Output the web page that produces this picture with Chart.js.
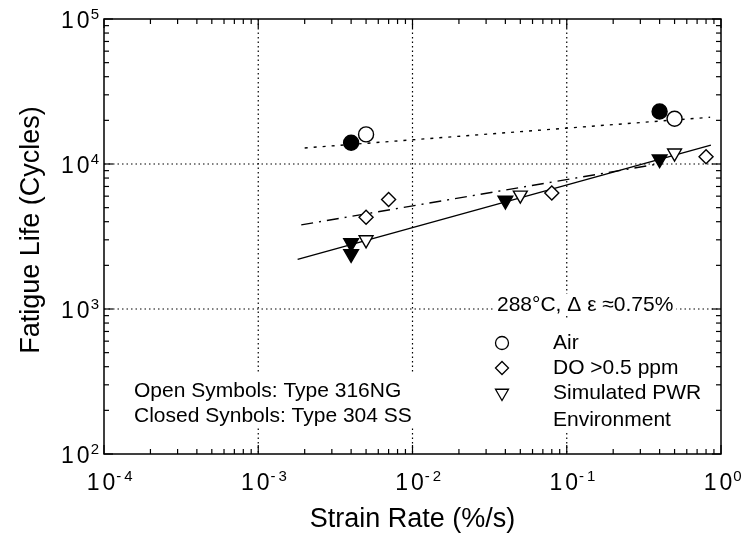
<!DOCTYPE html>
<html>
<head>
<meta charset="utf-8">
<script src="https://cdn.jsdelivr.net/npm/chart.js@4.4.1/dist/chart.umd.min.js"></script>
<style>
  html, body { margin: 0; padding: 0; background: #fff; }
  #wrap { width: 751px; height: 540px; }
</style>
</head>
<body>
<div id="wrap"><canvas id="fatigueChart" width="751" height="540"></canvas></div>
<script>
// ===== values (strain rate %/s, fatigue life cycles) =====
const airOpen = [[0.005, 16000], [0.5, 20500]];
const airClosed = [[0.004, 14000], [0.4, 23000]];
const doOpen = [[0.005, 4300], [0.007, 5700], [0.08, 6300], [0.8, 11200]];
const pwrOpen = [[0.005, 3000], [0.05, 6100], [0.5, 11900]];
const pwrClosed = [[0.004, 2850], [0.004, 2400], [0.04, 5600], [0.4, 10800]];

// trend lines, end points
const airFit = [[0.002, 12900], [0.85, 21000]];
const doFit = [[0.0019, 3800], [0.4, 10050]];
const pwrFit = [[0.0018, 2200], [0.86, 13500]];

// axes
const xDecades = [1e-4, 1e-3, 1e-2, 1e-1, 1];
const xExponents = ['-4', '-3', '-2', '-1', '0'];
const yDecades = [1e2, 1e3, 1e4, 1e5];
const yExponents = ['2', '3', '4', '5'];
const xTitle = 'Strain Rate (%/s)';
const yTitle = 'Fatigue Life (Cycles)';

// legend and note
const legendTitle = '288°C, Δ ε ≈0.75%';
const legendItems = ['Air', 'DO >0.5 ppm', 'Simulated PWR', 'Environment'];
const noteLines = ['Open Symbols: Type 316NG', 'Closed Synbols: Type 304 SS'];

const FONT = '"Liberation Sans", Arial, Helvetica, sans-serif';
const pts = arr => arr.map(([x, y]) => ({ x, y }));

function markers(label, data, style, filled, radius) {
  return {
    label,
    data: pts(data),
    showLine: false,
    pointStyle: style,
    pointRadius: radius,
    pointHoverRadius: radius,
    rotation: style === 'triangle' ? 180 : 0,
    backgroundColor: filled ? '#000' : '#fff',
    borderColor: '#000',
    borderWidth: 1.4
  };
}

function fitLine(label, data, dash) {
  return {
    label,
    data: pts(data),
    showLine: true,
    pointRadius: 0,
    borderColor: '#000',
    borderWidth: 1.4,
    borderDash: dash,
    fill: false
  };
}

function strokeLine(ctx, x1, y1, x2, y2) {
  ctx.beginPath();
  ctx.moveTo(x1, y1);
  ctx.lineTo(x2, y2);
  ctx.stroke();
}

// "1 0" with a raised exponent, spaced like the old plot lettering
function drawPower(ctx, exp, anchorX, centerY, mode) {
  const base = '23px ' + FONT;
  const sup = '15px ' + FONT;
  const digitGap = 3;
  ctx.font = base;
  const oneW = ctx.measureText('1').width;
  const baseW = ctx.measureText('10').width + digitGap;
  ctx.font = sup;
  const parts = exp.startsWith('-') ? ['-', exp.slice(1)] : [exp];
  const gap = 3;
  const expW = parts.reduce((s, p) => s + ctx.measureText(p).width, 0) + (parts.length - 1) * gap;
  const left = mode === 'center' ? anchorX - baseW / 2 - 3 : anchorX - baseW - expW - 2;
  const baseline = centerY + 8.5;
  ctx.textAlign = 'left';
  ctx.textBaseline = 'alphabetic';
  ctx.font = base;
  ctx.fillText('1', left, baseline);
  ctx.fillText('0', left + oneW + digitGap, baseline);
  ctx.font = sup;
  let sx = left + baseW + 1;
  parts.forEach(p => {
    ctx.fillText(p, sx, baseline - 9);
    sx += ctx.measureText(p).width + gap;
  });
}

function legendSymbol(ctx, kind, x, y) {
  ctx.beginPath();
  if (kind === 0) {
    ctx.arc(x, y, 6.5, 0, Math.PI * 2);
  } else if (kind === 1) {
    const r = 6.5;
    ctx.moveTo(x - r, y); ctx.lineTo(x, y - r); ctx.lineTo(x + r, y); ctx.lineTo(x, y + r);
    ctx.closePath();
  } else {
    const r = 7.5;
    ctx.moveTo(x - r * 0.866, y - r / 2); ctx.lineTo(x + r * 0.866, y - r / 2); ctx.lineTo(x, y + r);
    ctx.closePath();
  }
  ctx.stroke();
}

const figurePlugin = {
  id: 'figure',
  beforeDatasetsDraw(chart) {
    const { ctx, chartArea: a, scales: { x, y } } = chart;
    ctx.save();
    ctx.strokeStyle = '#000';
    ctx.lineWidth = 1.2;
    ctx.setLineDash([1.5, 3]);
    xDecades.slice(1, -1).forEach(v => {
      const px = x.getPixelForValue(v);
      strokeLine(ctx, px, a.top, px, a.bottom);
    });
    yDecades.slice(1, -1).forEach(v => {
      const py = y.getPixelForValue(v);
      strokeLine(ctx, a.left, py, a.right, py);
    });
    ctx.setLineDash([]);

    // white backing for the note
    ctx.fillStyle = '#fff';
    ctx.font = '21px ' + FONT;
    const noteW = Math.max(...noteLines.map(t => ctx.measureText(t).width));
    ctx.fillRect(130, 372, noteW + 8, 56);

    // white backing for the legend
    const titleW = ctx.measureText(legendTitle).width;
    ctx.fillRect(494, 294, titleW + 6, 22);
    ctx.fillRect(490, 318, 222, 114);
    ctx.restore();
  },
  afterDatasetsDraw(chart) {
    const { ctx, chartArea: a, scales: { x, y } } = chart;
    ctx.save();
    ctx.strokeStyle = '#000';
    ctx.fillStyle = '#000';
    ctx.lineWidth = 1.2;

    // inward ticks on all four sides
    xDecades.forEach((d, i) => {
      const px = x.getPixelForValue(d);
      strokeLine(ctx, px, a.bottom, px, a.bottom - 9);
      strokeLine(ctx, px, a.top, px, a.top + 9);
      if (i < xDecades.length - 1) {
        for (let k = 2; k <= 9; k++) {
          const mx = x.getPixelForValue(d * k);
          strokeLine(ctx, mx, a.bottom, mx, a.bottom - 5);
          strokeLine(ctx, mx, a.top, mx, a.top + 5);
        }
      }
    });
    yDecades.forEach((d, i) => {
      const py = y.getPixelForValue(d);
      strokeLine(ctx, a.left, py, a.left + 9, py);
      strokeLine(ctx, a.right, py, a.right - 9, py);
      if (i < yDecades.length - 1) {
        for (let k = 2; k <= 9; k++) {
          const my = y.getPixelForValue(d * k);
          strokeLine(ctx, a.left, my, a.left + 5, my);
          strokeLine(ctx, a.right, my, a.right - 5, my);
        }
      }
    });

    // frame
    ctx.lineWidth = 1.5;
    ctx.strokeRect(a.left, a.top, a.right - a.left, a.bottom - a.top);

    // tick labels
    xDecades.forEach((d, i) => drawPower(ctx, xExponents[i], x.getPixelForValue(d), a.bottom + 27, 'center'));
    yDecades.forEach((d, i) => drawPower(ctx, yExponents[i], a.left - 4, y.getPixelForValue(d), 'right'));

    // axis titles
    ctx.font = '27px ' + FONT;
    ctx.textAlign = 'center';
    ctx.textBaseline = 'middle';
    ctx.fillText(xTitle, (a.left + a.right) / 2, 520);
    ctx.save();
    ctx.translate(32, 230);
    ctx.rotate(-Math.PI / 2);
    ctx.fillText(yTitle, 0, 0);
    ctx.restore();

    // legend
    ctx.font = '21px ' + FONT;
    ctx.textAlign = 'left';
    ctx.fillText(legendTitle, 497, 305);
    const rows = [343, 368, 393, 420];
    ctx.lineWidth = 1.3;
    legendItems.forEach((t, i) => {
      if (i < 3) legendSymbol(ctx, i, 502, rows[i]);
      ctx.fillText(t, 553, rows[i]);
    });

    // note
    ctx.textBaseline = 'alphabetic';
    ctx.fillText(noteLines[0], 134, 397);
    ctx.fillText(noteLines[1], 134, 422);
    ctx.restore();
  }
};

new Chart(document.getElementById('fatigueChart'), {
  type: 'scatter',
  data: {
    datasets: [
      markers('Air, 316NG', airOpen, 'circle', false, 7.5),
      markers('Air, 304 SS', airClosed, 'circle', true, 7.5),
      markers('DO, 316NG', doOpen, 'rectRot', false, 7),
      markers('PWR, 316NG', pwrOpen, 'triangle', false, 8),
      markers('PWR, 304 SS', pwrClosed, 'triangle', true, 8.5),
      fitLine('Air fit', airFit, [3, 6]),
      fitLine('DO fit', doFit, [12, 6, 2, 6]),
      fitLine('PWR fit', pwrFit, [])
    ]
  },
  options: {
    responsive: false,
    animation: false,
    events: [],
    layout: { padding: { left: 104, right: 30, top: 19, bottom: 86 } },
    plugins: { legend: { display: false }, tooltip: { enabled: false } },
    scales: {
      x: {
        type: 'logarithmic', min: 1e-4, max: 1,
        ticks: { display: false }, grid: { display: false }, border: { display: false },
        afterFit: s => { s.height = 0; }
      },
      y: {
        type: 'logarithmic', min: 1e2, max: 1e5,
        ticks: { display: false }, grid: { display: false }, border: { display: false },
        afterFit: s => { s.width = 0; }
      }
    }
  },
  plugins: [figurePlugin]
});
</script>
</body>
</html>
